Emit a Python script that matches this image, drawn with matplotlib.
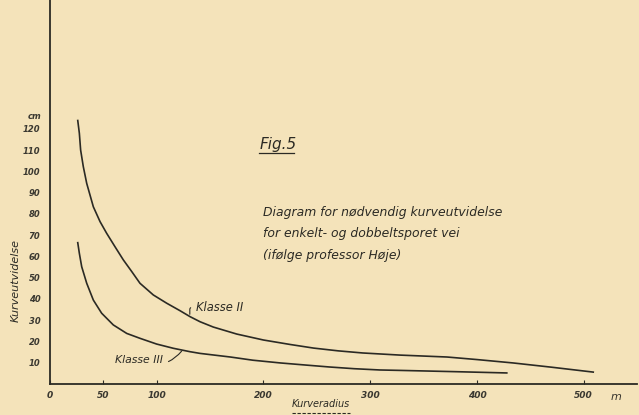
import matplotlib
matplotlib.use("Agg")
from matplotlib import pyplot as plt
from matplotlib.lines import Line2D

# kurveradius (m) og kurveutvidelse (cm)
radius_II = [26, 27.5, 28.7, 31.2, 34.4, 40.6, 46.9, 53.1, 60.9, 68.7, 76.6, 84.3,
             96.8, 109.4, 121.8, 131.2, 140.6, 153, 175, 200, 225, 247, 270, 293,
             328, 372, 400, 434, 470, 509]
utvid_II = [124, 118, 110.1, 102.3, 94.4, 83.4, 76.4, 70.9, 64.6, 58.4, 52.9, 47.4,
            41.9, 38.0, 34.5, 31.7, 29.3, 26.8, 23.5, 20.7, 18.6, 16.9, 15.6, 14.6,
            13.6, 12.7, 11.5, 9.9, 7.9, 5.6]

radius_III = [26, 27.5, 29.7, 34.4, 40.6, 48.4, 59.3, 71.9, 84.3, 99.9, 115.6, 131.2,
              140.6, 169, 190, 216, 240, 262, 285, 309, 328, 380, 428]
utvid_III = [66.5, 61.5, 55.2, 47.4, 39.5, 33.3, 27.8, 23.8, 21.5, 18.8, 16.8, 15.2,
             14.4, 12.7, 11.2, 9.9, 8.9, 8.0, 7.2, 6.6, 6.4, 5.8, 5.2]

x_ticks = [0, 50, 100, 200, 300, 400, 500]
y_ticks = [10, 20, 30, 40, 50, 60, 70, 80, 90, 100, 110, 120]

W, H = 639, 415
paper = '#f4e3ba'
ink = '#2b2a24'

fig = plt.figure(figsize=(W / 100, H / 100), dpi=100, facecolor=paper)
ax = fig.add_axes([50 / W, 31 / H, 587 / W, 384 / H])
ax.set_facecolor(paper)

ax.plot(radius_II, utvid_II, color=ink, lw=1.2, solid_joinstyle='round')
ax.plot(radius_III, utvid_III, color=ink, lw=1.2, solid_joinstyle='round')

ax.set_xlim(0, 550)
ax.set_ylim(0, 180.7)
for s in ['top', 'right']:
    ax.spines[s].set_visible(False)
for s in ['left', 'bottom']:
    ax.spines[s].set_color(ink)
    ax.spines[s].set_linewidth(1.3)

ax.set_xticks(x_ticks)
ax.set_xticklabels([str(v) for v in x_ticks], fontsize=6.5, style='italic',
                   fontweight='bold', color='#3a3830')
ax.tick_params(axis='x', direction='in', length=3, width=0.8, color=ink, pad=5)
ax.set_yticks(y_ticks)
ax.set_yticklabels([str(v) for v in y_ticks], fontsize=6, style='italic',
                   fontweight='bold', color='#3a3830')
ax.tick_params(axis='y', length=0, pad=7)

ax.text(-8, 126, 'cm', fontsize=6, style='italic', fontweight='bold',
        color='#3a3830', ha='right', va='center')
ax.text(530, -6, 'm', fontsize=8, style='italic', color='#3a3830',
        ha='center', va='center', clip_on=False)

# kurvemerker
ax.annotate('Klasse II', xy=(131, 31.5), xytext=(137, 36),
            fontsize=8.3, style='italic', color=ink, va='center',
            arrowprops=dict(arrowstyle='-', color=ink, lw=0.8,
                            connectionstyle='angle,angleA=0,angleB=90,rad=2'))
ax.annotate('Klasse III', xy=(125, 16.5), xytext=(106, 11.3),
            fontsize=7.8, style='italic', color=ink, va='center', ha='right',
            arrowprops=dict(arrowstyle='-', color=ink, lw=0.8,
                            connectionstyle='arc3,rad=0.4'))

# aksetitler
fig.text(16 / W, 1 - 280 / H, 'Kurveutvidelse', rotation=90, fontsize=8,
         style='italic', color=ink, ha='center', va='center')
fig.text(321 / W, 1 - 404 / H, 'Kurveradius', fontsize=7,
         style='italic', color=ink, ha='center', va='center')
fig.add_artist(Line2D([292 / W, 350 / W], [1 - 413 / H, 1 - 413 / H],
                      color=ink, lw=0.8, ls=(0, (3, 1.5))))

# figurtekst
fig.text(260 / W, 1 - 145 / H, 'Fig.5', fontsize=11, style='italic',
         color=ink, ha='left', va='center')
fig.add_artist(Line2D([259 / W, 294 / W], [1 - 153 / H, 1 - 153 / H],
                      color=ink, lw=0.9))
caption = ['Diagram for nødvendig kurveutvidelse',
           'for enkelt- og dobbeltsporet vei',
           '(ifølge professor Høje)']
for i, line in enumerate(caption):
    fig.text(263 / W, 1 - (212 + 21.5 * i) / H, line, fontsize=8.9,
             style='italic', color=ink, ha='left', va='center')

fig.savefig('out.png', dpi=100, facecolor=paper)
